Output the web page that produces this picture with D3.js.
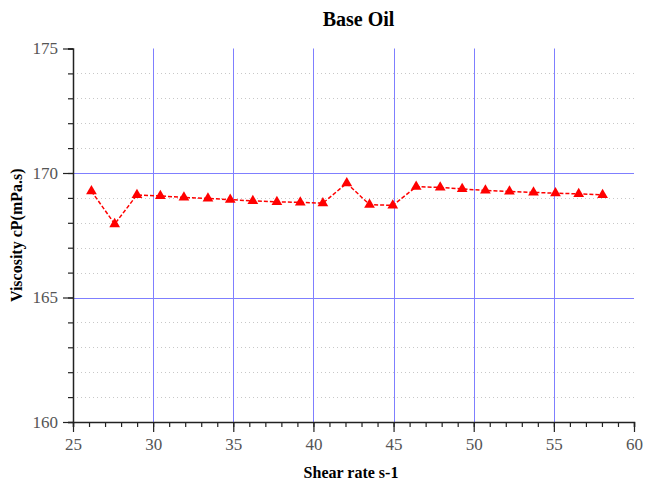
<!DOCTYPE html>
<html>
<head>
    <script src="https://d3js.org/d3.v7.min.js"></script>
    <title>Base Oil</title>
</head>
<style>
    body {
        margin: 0;
        background-color: white;
        font-family: 'Liberation Serif', 'Times New Roman', serif;
    }
</style>
<body>
<div id="chart"></div>
</body>
</html>

<script>
  // data
  var shearRate = [26.15, 27.6, 28.99, 30.45, 31.92, 33.42, 34.81, 36.22, 37.72, 39.18, 40.59, 42.08,
                   43.5, 44.95, 46.41, 47.91, 49.28, 50.73, 52.23, 53.73, 55.1, 56.55, 58.04];
  var viscosity = [169.27, 167.95, 169.12, 169.08, 169.02, 168.98, 168.93, 168.88, 168.84, 168.82, 168.79, 169.59,
                   168.73, 168.7, 169.45, 169.42, 169.36, 169.3, 169.26, 169.22, 169.19, 169.16, 169.12];
  var xTicks = [25, 30, 35, 40, 45, 50, 55, 60];
  var yTicks = [160, 165, 170, 175];

  var width = 645, height = 483;
  var margin = {top: 48.5, right: 11, bottom: 61, left: 73};

  var svg = d3.select("#chart").append("svg")
      .attr("width", width)
      .attr("height", height);

  var x = d3.scaleLinear().domain([25, 60]).range([margin.left, width - margin.right]);
  var y = d3.scaleLinear().domain([160, 175]).range([height - margin.bottom, margin.top]);

  var minorX = d3.range(25, 61, 1);
  var minorY = d3.range(160, 176, 1);

  // snap to pixel centre so 1px lines stay crisp
  function px(v) { return Math.round(v) + 0.5; }

  //dotted minor grid
  svg.append("g").selectAll("line")
      .data(minorY.filter(function(d) { return d % 5 != 0; }))
      .enter().append("line")
      .attr("x1", x(25)).attr("x2", x(60))
      .attr("y1", function(d) { return px(y(d)); })
      .attr("y2", function(d) { return px(y(d)); })
      .attr("stroke", "#c8c8c8")
      .attr("stroke-width", 1)
      .attr("stroke-dasharray", "1,3");

  //blue major grid
  svg.append("g").selectAll("line")
      .data(xTicks.filter(function(d) { return d > 25 && d < 60; }))
      .enter().append("line")
      .attr("x1", function(d) { return px(x(d)); })
      .attr("x2", function(d) { return px(x(d)); })
      .attr("y1", y(160)).attr("y2", y(175))
      .attr("stroke", "#7f7fff")
      .attr("stroke-width", 1);

  svg.append("g").selectAll("line")
      .data(yTicks.filter(function(d) { return d > 160 && d < 175; }))
      .enter().append("line")
      .attr("x1", x(25)).attr("x2", x(60))
      .attr("y1", function(d) { return px(y(d)); })
      .attr("y2", function(d) { return px(y(d)); })
      .attr("stroke", "#7f7fff")
      .attr("stroke-width", 1);

  //AXES
  svg.append("g")
      .attr("transform", "translate(0," + y(160) + ")")
      .call(d3.axisBottom(x).tickValues(minorX).tickSize(5).tickFormat(""));
  svg.append("g")
      .attr("transform", "translate(0," + y(160) + ")")
      .call(d3.axisBottom(x).tickValues(xTicks).tickSize(10).tickPadding(6))
      .call(function(g) { g.select(".domain").remove(); });

  svg.append("g")
      .attr("transform", "translate(" + x(25) + ",0)")
      .call(d3.axisLeft(y).tickValues(minorY).tickSize(5).tickFormat(""));
  svg.append("g")
      .attr("transform", "translate(" + x(25) + ",0)")
      .call(d3.axisLeft(y).tickValues(yTicks).tickSize(10).tickPadding(5))
      .call(function(g) { g.select(".domain").remove(); });

  svg.selectAll(".domain").attr("stroke", "#222").attr("stroke-width", 1.5);
  svg.selectAll(".tick line").attr("stroke", "#222").attr("stroke-width", 1.2);
  svg.selectAll(".tick text")
      .style("font-family", "'Liberation Serif', serif")
      .style("font-size", "17px")
      .attr("fill", "#555");

  //LINE + MARKERS
  var pts = shearRate.map(function(d, i) { return {x: d, y: viscosity[i]}; });

  var lineFunction = d3.line()
      .x(function(d) { return x(d.x); })
      .y(function(d) { return y(d.y); });

  svg.append("path")
      .attr("d", lineFunction(pts))
      .attr("stroke", "red")
      .attr("stroke-width", 1.5)
      .attr("stroke-dasharray", "4,2")
      .attr("fill", "none");

  svg.append("g").selectAll("path")
      .data(pts)
      .enter().append("path")
      .attr("d", d3.symbol().type(d3.symbolTriangle).size(50))
      .attr("transform", function(d) { return "translate(" + x(d.x) + "," + y(d.y) + ")"; })
      .attr("fill", "red");

  //TEXT
  svg.append("text")
      .attr("x", 358.5).attr("y", 26)
      .attr("text-anchor", "middle")
      .style("font-weight", "bold")
      .style("font-size", "20px")
      .text("Base Oil");

  svg.append("text")
      .attr("x", 351).attr("y", 478)
      .attr("text-anchor", "middle")
      .style("font-weight", "bold")
      .style("font-size", "16px")
      .text("Shear rate s-1");

  svg.append("text")
      .attr("transform", "translate(22," + y(167.5) + ") rotate(-90)")
      .attr("text-anchor", "middle")
      .style("font-weight", "bold")
      .style("font-size", "16px")
      .text("Viscosity cP(mPa.s)");
</script>
